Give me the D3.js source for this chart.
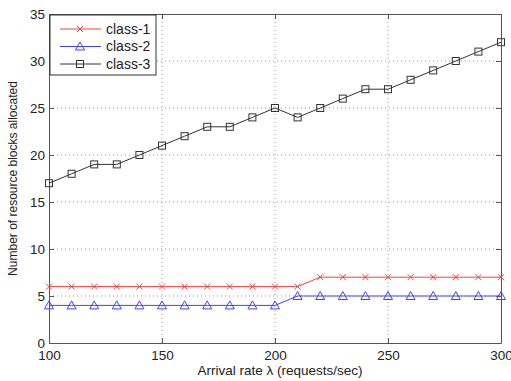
<!DOCTYPE html>
<html>
<head>
<meta charset="utf-8">
<script src="https://cdn.jsdelivr.net/npm/d3@7"></script>
<style>
body { margin: 0; background: #fff; }
text { font-family: "Liberation Sans", Arial, sans-serif; fill: #222; }
</style>
</head>
<body>
<div id="chart"></div>
<script>
// arrival rate (requests/sec)
var rates = [100,110,120,130,140,150,160,170,180,190,200,210,220,230,240,250,260,270,280,290,300];
var class1 = [6,6,6,6,6,6,6,6,6,6,6,6,7,7,7,7,7,7,7,7,7];
var class2 = [4,4,4,4,4,4,4,4,4,4,4,5,5,5,5,5,5,5,5,5,5];
var class3 = [17,18,19,19,20,21,22,23,23,24,25,24,25,26,27,27,28,29,30,31,32];
var xTicks = [100,150,200,250,300];
var yTicks = [0,5,10,15,20,25,30,35];
var seriesNames = ["class-1","class-2","class-3"];

var W = 511, H = 381;
var m = {left: 49, right: 10, top: 14, bottom: 38};
var iw = W - m.left - m.right, ih = H - m.top - m.bottom;

var svg = d3.select("#chart").append("svg").attr("width", W).attr("height", H);
var g = svg.append("g").attr("transform", "translate(" + m.left + "," + m.top + ")");

var x = d3.scaleLinear().domain([100, 300]).range([0, iw]);
var y = d3.scaleLinear().domain([0, 35]).range([ih, 0]);

// grid
g.selectAll(".gx").data(xTicks.slice(1, -1)).enter().append("line")
  .attr("x1", d => x(d)).attr("x2", d => x(d)).attr("y1", 0).attr("y2", ih)
  .attr("stroke", "#999").attr("stroke-dasharray", "1,3");
g.selectAll(".gy").data(yTicks.slice(1, -1)).enter().append("line")
  .attr("y1", d => y(d)).attr("y2", d => y(d)).attr("x1", 0).attr("x2", iw)
  .attr("stroke", "#999").attr("stroke-dasharray", "1,3");

// axes (ticks inward, MATLAB style box)
var xAxis = g.append("g").attr("transform", "translate(0," + ih + ")")
  .call(d3.axisBottom(x).tickValues(xTicks).tickSizeInner(-5).tickSizeOuter(0).tickPadding(7));
var xTop = g.append("g")
  .call(d3.axisTop(x).tickValues(xTicks).tickSizeInner(-5).tickSizeOuter(0).tickFormat(""));
var yAxis = g.append("g")
  .call(d3.axisLeft(y).tickValues(yTicks).tickSizeInner(-5).tickSizeOuter(0).tickPadding(4));
var yRight = g.append("g").attr("transform", "translate(" + iw + ",0)")
  .call(d3.axisRight(y).tickValues(yTicks).tickSizeInner(-5).tickSizeOuter(0).tickFormat(""));
[xAxis, xTop, yAxis, yRight].forEach(function(a) {
  a.selectAll("path,line").attr("stroke", "#555");
  a.selectAll("text").style("font-size", "13.5px").attr("fill", "#222");
});

var colors = ["#ef4444", "#4444ee", "#333333"];
var all = [class1, class2, class3];
var line = d3.line().x((d, i) => x(rates[i])).y(d => y(d));

function marker(sel, k) {
  if (k == 0) {
    sel.append("path").attr("d", "M-3,-3L3,3M-3,3L3,-3");
  } else if (k == 1) {
    sel.append("path").attr("d", "M0,-4.5L4.5,3.5L-4.5,3.5Z").attr("fill", "none");
  } else {
    sel.append("rect").attr("x", -3.5).attr("y", -3.5).attr("width", 7).attr("height", 7).attr("fill", "none");
  }
}

all.forEach(function(vals, k) {
  g.append("path").datum(vals).attr("d", line)
    .attr("fill", "none").attr("stroke", colors[k]).attr("stroke-width", 1);
  vals.forEach(function(v, i) {
    var mk = g.append("g").attr("transform", "translate(" + x(rates[i]) + "," + y(v) + ")")
      .attr("stroke", colors[k]).attr("stroke-width", 1).attr("fill", "none");
    marker(mk, k);
  });
});

// legend
var lg = g.append("g").attr("transform", "translate(1,1)");
lg.append("rect").attr("width", 106).attr("height", 60).attr("fill", "#fff").attr("stroke", "#333");
seriesNames.forEach(function(n, k) {
  var yy = 14 + k * 17.5;
  lg.append("line").attr("x1", 10).attr("x2", 51).attr("y1", yy).attr("y2", yy)
    .attr("stroke", colors[k]);
  var mk = lg.append("g").attr("transform", "translate(30," + yy + ")")
    .attr("stroke", colors[k]).attr("fill", "none");
  marker(mk, k);
  lg.append("text").attr("x", 56).attr("y", yy).attr("dy", "0.35em")
    .style("font-size", "14px").text(n);
});

// axis labels
svg.append("text").attr("x", 280).attr("y", 375).attr("text-anchor", "middle")
  .style("font-size", "13.5px").text("Arrival rate \u03bb (requests/sec)");
svg.append("text").attr("transform", "translate(17," + (m.top + ih / 2) + ") rotate(-90)")
  .attr("text-anchor", "middle").style("font-size", "12px").text("Number of resource blocks allocated");
</script>
</body>
</html>
